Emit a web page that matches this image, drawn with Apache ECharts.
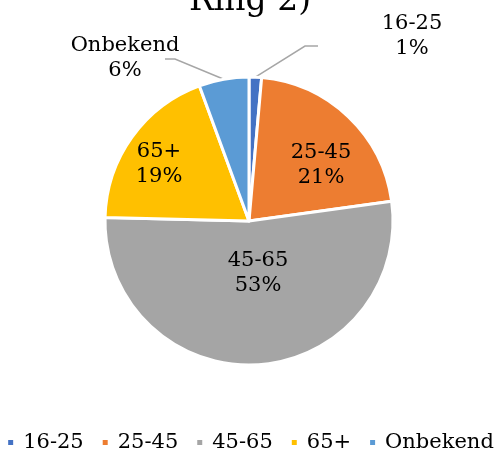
<!DOCTYPE html>
<html>
<head>
<meta charset="utf-8">
<script src="https://cdn.jsdelivr.net/npm/echarts@6/dist/echarts.min.js"></script>
<style>html,body{margin:0;padding:0;background:#fff}#c{width:500px;height:455px}</style>
</head>
<body>
<div id="c"></div>
<script>
var titleText = 'Ring 2)';
var categories = ['16-25', '25-45', '45-65', '65+', 'Onbekend'];
var values = [1.4, 21.4, 52.6, 19.0, 5.6];
var colors = ['#4472C4', '#ED7D31', '#A5A5A5', '#FFC000', '#5B9BD5'];

var FONT = '"DejaVu Serif", serif';
var chart = echarts.init(document.getElementById('c'), null, {renderer: 'canvas'});

// label placements (centre of label box) and leader line bends
var labelPos = [
  {x: 412, y: 36, line: function (p) { return [p, [305, 46], [318, 46]]; }},
  {x: 321, y: 165},
  {x: 258, y: 273},
  {x: 159, y: 164},
  {x: 125, y: 58, line: function (p) { return [p, [175, 59], [165, 59]]; }}
];

var data = categories.map(function (c, i) {
  var outside = (i === 0 || i === 4);
  return {
    name: c,
    value: values[i],
    itemStyle: {color: colors[i]},
    label: {position: outside ? 'outside' : 'inside'},
    labelLine: {show: outside}
  };
});

chart.setOption({
  animation: false,
  backgroundColor: '#fff',
  title: {
    text: titleText,
    left: 'center',
    top: -20,
    textStyle: {fontFamily: FONT, fontSize: 33, fontWeight: 'normal', color: '#000'}
  },
  legend: {
    bottom: -3,
    left: 'center',
    icon: 'rect',
    itemWidth: 7,
    itemHeight: 7,
    itemGap: 17,
    textStyle: {fontFamily: FONT, fontSize: 21, color: '#000', padding: [0, 0, 0, 4]},
    data: categories
  },
  series: [{
    type: 'pie',
    center: [249, 221],
    radius: [0, 144],
    startAngle: 90,
    clockwise: true,
    avoidLabelOverlap: false,
    itemStyle: {borderColor: '#fff', borderWidth: 3},
    label: {
      fontFamily: FONT,
      fontSize: 21,
      lineHeight: 25,
      color: '#000',
      align: 'center',
      formatter: function (p) { return p.name + '\n' + Math.round(p.percent) + '%'; }
    },
    labelLine: {
      lineStyle: {color: '#A6A6A6', width: 1.5},
      length: 20, length2: 10, smooth: false
    },
    labelLayout: function (params) {
      var lp = labelPos[params.dataIndex];
      var res = {x: lp.x, y: lp.y, align: 'center', verticalAlign: 'middle'};
      if (lp.line && params.labelLinePoints) {
        res.labelLinePoints = lp.line(params.labelLinePoints[0]);
      }
      return res;
    },
    data: data
  }]
});
</script>
</body>
</html>
